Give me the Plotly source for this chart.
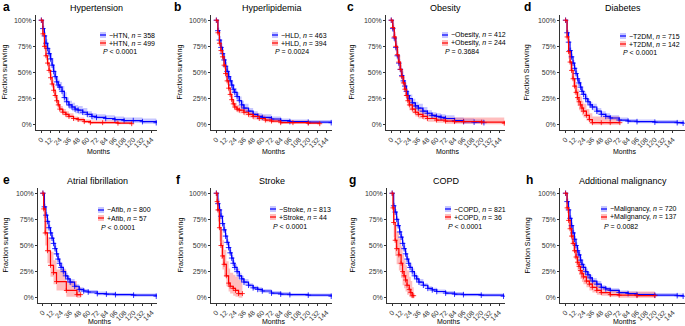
import plotly.graph_objects as go

W, H = 685, 326

# ---------------- DATA ----------------
month_ticks = [0, 12, 24, 36, 48, 60, 72, 84, 96, 108, 120, 132, 144]
pct_ticks = [0, 0.25, 0.5, 0.75, 1.0]
pct_labels = ["0%", "25%", "50%", "75%", "100%"]

# a Hypertension
htn_neg_t = [0,2,4,6,8,10,12,14,16,18,20,22,24,27,30,33,36,40,44,48,54,60,66,72,84,96,108,120,132,150]
htn_neg_s = [1.00,0.92,0.85,0.78,0.73,0.68,0.63,0.57,0.51,0.46,0.41,0.38,0.36,0.32,0.26,0.22,0.19,0.17,0.15,0.14,0.12,0.10,0.08,0.07,0.06,0.05,0.04,0.04,0.03,0.02]
htn_neg_lo = [1.00,0.89,0.81,0.74,0.68,0.63,0.58,0.52,0.46,0.41,0.36,0.33,0.31,0.27,0.22,0.18,0.15,0.13,0.11,0.10,0.09,0.07,0.05,0.05,0.04,0.03,0.02,0.02,0.01,0.01]
htn_neg_hi = [1.00,0.95,0.89,0.82,0.78,0.73,0.68,0.62,0.56,0.51,0.46,0.43,0.41,0.37,0.31,0.26,0.23,0.21,0.19,0.18,0.16,0.13,0.11,0.10,0.09,0.08,0.07,0.07,0.06,0.05]
htn_pos_t = [0,2,4,6,8,10,12,14,16,18,20,22,24,28,32,36,42,48,56,64,80,100,118]
htn_pos_s = [1.00,0.87,0.75,0.66,0.59,0.52,0.45,0.39,0.33,0.28,0.23,0.19,0.15,0.12,0.10,0.08,0.06,0.05,0.03,0.02,0.02,0.015,0.01]
htn_pos_lo = [1.00,0.84,0.71,0.62,0.55,0.48,0.41,0.35,0.29,0.24,0.19,0.16,0.12,0.09,0.07,0.06,0.04,0.03,0.02,0.01,0.01,0.005,0.0]
htn_pos_hi = [1.00,0.90,0.79,0.70,0.63,0.56,0.49,0.43,0.37,0.32,0.27,0.23,0.18,0.15,0.13,0.11,0.08,0.07,0.05,0.04,0.04,0.03,0.03]

# b Hyperlipidemia
hld_neg_t = [0,2,4,6,8,10,12,14,16,18,20,22,24,27,30,33,36,42,48,54,60,72,84,96,120,150]
hld_neg_s = [1.00,0.90,0.81,0.74,0.68,0.62,0.56,0.51,0.46,0.42,0.38,0.34,0.31,0.27,0.23,0.19,0.16,0.13,0.10,0.08,0.07,0.055,0.04,0.03,0.025,0.02]
hld_neg_lo = [1.00,0.87,0.77,0.70,0.64,0.58,0.52,0.47,0.42,0.38,0.34,0.30,0.27,0.23,0.19,0.16,0.13,0.10,0.07,0.06,0.05,0.035,0.02,0.015,0.01,0.005]
hld_neg_hi = [1.00,0.93,0.85,0.78,0.72,0.66,0.60,0.55,0.50,0.46,0.42,0.38,0.35,0.31,0.27,0.23,0.20,0.16,0.13,0.11,0.10,0.08,0.06,0.05,0.045,0.04]
hld_pos_t = [0,2,4,6,8,10,12,14,16,18,20,22,24,27,30,36,42,48,56,64,72,84,100,120,135]
hld_pos_s = [1.00,0.88,0.78,0.71,0.65,0.57,0.49,0.42,0.35,0.29,0.24,0.20,0.17,0.15,0.14,0.12,0.10,0.08,0.06,0.045,0.035,0.02,0.02,0.015,0.01]
hld_pos_lo = [1.00,0.85,0.74,0.67,0.61,0.53,0.45,0.38,0.31,0.25,0.20,0.16,0.14,0.12,0.11,0.09,0.07,0.05,0.04,0.025,0.02,0.01,0.01,0.005,0.0]
hld_pos_hi = [1.00,0.91,0.82,0.75,0.69,0.61,0.53,0.46,0.39,0.33,0.28,0.24,0.21,0.19,0.18,0.15,0.13,0.11,0.09,0.07,0.06,0.045,0.04,0.035,0.03]

# c Obesity
ob_neg_t = [0,2,4,6,8,10,12,14,16,18,20,22,24,28,32,36,42,48,54,60,66,72,84,96,110,123]
ob_neg_s = [1.00,0.92,0.83,0.74,0.66,0.59,0.53,0.47,0.42,0.37,0.32,0.28,0.25,0.21,0.18,0.16,0.13,0.11,0.09,0.08,0.07,0.06,0.04,0.03,0.025,0.02]
ob_neg_lo = [1.00,0.89,0.79,0.70,0.62,0.55,0.49,0.43,0.38,0.33,0.28,0.24,0.21,0.17,0.14,0.12,0.10,0.08,0.06,0.05,0.04,0.035,0.02,0.01,0.01,0.005]
ob_neg_hi = [1.00,0.95,0.87,0.78,0.70,0.63,0.57,0.51,0.46,0.41,0.36,0.32,0.29,0.25,0.22,0.20,0.17,0.14,0.12,0.11,0.10,0.09,0.07,0.06,0.05,0.045]
ob_pos_t = [0,2,4,6,8,10,12,14,16,18,20,22,24,28,32,36,42,48,60,72,84,96,120,150]
ob_pos_s = [1.00,0.93,0.84,0.75,0.67,0.60,0.53,0.46,0.40,0.34,0.28,0.23,0.19,0.15,0.12,0.10,0.08,0.06,0.045,0.035,0.03,0.03,0.025,0.015]
ob_pos_lo = [1.00,0.89,0.79,0.70,0.61,0.54,0.47,0.40,0.34,0.28,0.23,0.18,0.14,0.11,0.08,0.06,0.05,0.03,0.02,0.01,0.01,0.01,0.005,0.0]
ob_pos_hi = [1.00,0.97,0.89,0.80,0.73,0.66,0.59,0.52,0.46,0.40,0.34,0.29,0.24,0.20,0.17,0.15,0.12,0.10,0.08,0.07,0.07,0.07,0.07,0.06]

# d Diabetes
dm_neg_t = [0,2,4,6,8,10,12,14,16,18,20,22,24,27,30,33,36,42,48,54,60,72,84,96,120,150,158]
dm_neg_s = [1.00,0.88,0.79,0.71,0.65,0.59,0.54,0.49,0.44,0.40,0.36,0.32,0.29,0.25,0.22,0.19,0.17,0.13,0.10,0.08,0.065,0.045,0.035,0.03,0.025,0.02,0.015]
dm_neg_lo = [1.00,0.85,0.76,0.68,0.62,0.56,0.51,0.46,0.41,0.37,0.33,0.29,0.26,0.22,0.19,0.16,0.14,0.10,0.08,0.06,0.045,0.03,0.02,0.015,0.01,0.005,0.0]
dm_neg_hi = [1.00,0.91,0.82,0.74,0.68,0.62,0.57,0.52,0.47,0.43,0.39,0.35,0.32,0.28,0.25,0.22,0.20,0.16,0.13,0.11,0.09,0.07,0.055,0.05,0.045,0.04,0.035]
dm_pos_t = [0,2,4,6,8,10,12,14,16,18,20,22,24,28,32,36,48,60,73]
dm_pos_s = [1.00,0.84,0.70,0.60,0.52,0.44,0.37,0.31,0.26,0.22,0.19,0.16,0.13,0.09,0.05,0.02,0.02,0.02,0.02]
dm_pos_lo = [1.00,0.78,0.63,0.52,0.44,0.36,0.29,0.23,0.18,0.14,0.12,0.09,0.07,0.04,0.01,0.0,0.0,0.0,0.0]
dm_pos_hi = [1.00,0.90,0.77,0.68,0.60,0.52,0.45,0.39,0.34,0.30,0.27,0.23,0.20,0.15,0.11,0.08,0.08,0.08,0.08]

# e Atrial fibrillation
af_neg_t = [0,2,4,6,8,10,12,14,16,18,20,22,24,27,30,33,36,42,48,54,60,72,84,96,120,150]
af_neg_s = [1.00,0.87,0.79,0.73,0.67,0.62,0.57,0.52,0.47,0.42,0.37,0.33,0.29,0.25,0.21,0.18,0.15,0.11,0.08,0.065,0.055,0.04,0.035,0.03,0.025,0.015]
af_neg_lo = [1.00,0.84,0.76,0.70,0.64,0.59,0.54,0.49,0.44,0.39,0.34,0.30,0.26,0.22,0.18,0.15,0.12,0.09,0.06,0.045,0.035,0.025,0.02,0.015,0.01,0.005]
af_neg_hi = [1.00,0.90,0.82,0.76,0.70,0.65,0.60,0.55,0.50,0.45,0.40,0.36,0.32,0.28,0.24,0.21,0.18,0.13,0.10,0.085,0.075,0.06,0.05,0.045,0.04,0.035]
af_pos_t = [0,1,3,6,10,14,18,31,45,50]
af_pos_s = [1.00,0.85,0.62,0.45,0.31,0.24,0.155,0.07,0.03,0.03]
af_pos_lo = [1.00,0.76,0.50,0.33,0.20,0.13,0.07,0.01,0.0,0.0]
af_pos_hi = [1.00,0.95,0.75,0.58,0.44,0.36,0.27,0.16,0.10,0.10]

# f Stroke
st_neg_t = [0,2,4,6,8,10,12,14,16,18,20,22,24,27,30,33,36,42,48,54,60,72,84,96,120,150]
st_neg_s = [1.00,0.90,0.84,0.78,0.71,0.65,0.59,0.53,0.48,0.43,0.38,0.33,0.29,0.25,0.21,0.18,0.15,0.12,0.095,0.08,0.065,0.045,0.035,0.03,0.025,0.015]
st_neg_lo = [1.00,0.87,0.81,0.75,0.68,0.62,0.56,0.50,0.45,0.40,0.35,0.30,0.26,0.22,0.18,0.15,0.12,0.10,0.075,0.06,0.045,0.03,0.02,0.015,0.01,0.005]
st_neg_hi = [1.00,0.93,0.87,0.81,0.74,0.68,0.62,0.56,0.51,0.46,0.41,0.36,0.32,0.28,0.24,0.21,0.18,0.14,0.115,0.10,0.085,0.065,0.055,0.045,0.04,0.035]
st_pos_t = [0,1,2,4,6,8,10,13,16,18,22,25,29,34]
st_pos_s = [1.00,0.92,0.84,0.67,0.50,0.40,0.32,0.21,0.14,0.11,0.09,0.07,0.04,0.04]
st_pos_lo = [1.00,0.84,0.73,0.54,0.37,0.27,0.20,0.11,0.06,0.04,0.02,0.01,0.0,0.0]
st_pos_hi = [1.00,0.99,0.95,0.81,0.65,0.55,0.46,0.35,0.28,0.24,0.22,0.20,0.17,0.17]

# g COPD
cp_neg_t = [0,2,4,6,8,10,12,14,16,18,20,22,24,27,30,33,36,42,48,54,60,72,84,96,120,150]
cp_neg_s = [1.00,0.88,0.82,0.75,0.69,0.63,0.58,0.52,0.47,0.42,0.37,0.33,0.29,0.25,0.21,0.18,0.15,0.12,0.09,0.075,0.06,0.045,0.035,0.03,0.025,0.015]
cp_neg_lo = [1.00,0.85,0.79,0.72,0.66,0.60,0.55,0.49,0.44,0.39,0.34,0.30,0.26,0.22,0.18,0.15,0.12,0.10,0.07,0.055,0.04,0.03,0.02,0.015,0.01,0.005]
cp_neg_hi = [1.00,0.91,0.85,0.78,0.72,0.66,0.61,0.55,0.50,0.45,0.40,0.36,0.32,0.28,0.24,0.21,0.18,0.14,0.11,0.095,0.08,0.065,0.055,0.045,0.04,0.035]
cp_pos_t = [0,1,2,4,6,9,12,14,16,18,20,23,25,27,29]
cp_pos_s = [1.00,0.86,0.72,0.55,0.47,0.41,0.33,0.25,0.21,0.17,0.12,0.08,0.05,0.02,0.02]
cp_pos_lo = [1.00,0.75,0.58,0.40,0.32,0.26,0.19,0.12,0.09,0.06,0.03,0.01,0.0,0.0,0.0]
cp_pos_hi = [1.00,0.97,0.86,0.71,0.63,0.57,0.49,0.41,0.36,0.31,0.26,0.20,0.16,0.10,0.10]

# h Additional malignancy
mal_neg_t = [0,2,4,6,8,10,12,14,16,18,20,22,24,27,30,33,36,42,48,54,60,72,84,96,120,150,158]
mal_neg_s = [1.00,0.92,0.84,0.76,0.69,0.62,0.56,0.50,0.45,0.41,0.36,0.32,0.29,0.25,0.22,0.19,0.16,0.13,0.10,0.085,0.07,0.05,0.04,0.03,0.025,0.02,0.015]
mal_neg_lo = [1.00,0.89,0.81,0.73,0.66,0.59,0.53,0.47,0.42,0.38,0.33,0.29,0.26,0.22,0.19,0.16,0.13,0.10,0.08,0.065,0.05,0.035,0.025,0.015,0.01,0.005,0.0]
mal_neg_hi = [1.00,0.95,0.87,0.79,0.72,0.65,0.59,0.53,0.48,0.44,0.39,0.35,0.32,0.28,0.25,0.22,0.19,0.16,0.12,0.105,0.09,0.07,0.06,0.05,0.045,0.04,0.035]
mal_pos_t = [0,2,4,6,8,10,12,14,16,18,20,22,24,28,32,36,42,48,60,72,96,120]
mal_pos_s = [1.00,0.86,0.74,0.66,0.59,0.52,0.45,0.39,0.34,0.30,0.26,0.23,0.20,0.16,0.13,0.10,0.07,0.05,0.03,0.025,0.02,0.02]
mal_pos_lo = [1.00,0.81,0.67,0.58,0.51,0.44,0.37,0.31,0.26,0.22,0.18,0.15,0.13,0.10,0.07,0.05,0.03,0.02,0.01,0.0,0.0,0.0]
mal_pos_hi = [1.00,0.91,0.81,0.74,0.67,0.60,0.53,0.47,0.42,0.38,0.34,0.31,0.27,0.22,0.19,0.16,0.12,0.09,0.07,0.06,0.06,0.06]

panel_letters = ["a", "b", "c", "d", "e", "f", "g", "h"]
panel_titles = ["Hypertension", "Hyperlipidemia", "Obesity", "Diabetes",
                "Atrial fibrillation", "Stroke", "COPD", "Additional malignancy"]
y_titles = ["Fraction surviving", "Fraction surviving", "Fraction surviving", "Fraction Surviving",
            "Fraction surviving", "Fraction surviving", "Fraction surviving", "Fraction Surviving"]
neg_labels = ["−HTN, <i>n</i> = 358", "−HLD, <i>n</i> = 463", "−Obesity, <i>n</i> = 412", "−T2DM, <i>n</i> = 715",
              "−Afib, <i>n</i> = 800", "−Stroke, <i>n</i> = 813", "−COPD, <i>n</i> = 821", "−Malignancy, <i>n</i> = 720"]
pos_labels = ["+HTN, <i>n</i> = 499", "+HLD, <i>n</i> = 394", "+Obesity, <i>n</i> = 244", "+T2DM, <i>n</i> = 142",
              "+Afib, <i>n</i> = 57", "+Stroke, <i>n</i> = 44", "+COPD, <i>n</i> = 36", "+Malignancy, <i>n</i> = 137"]
p_labels = ["<i>P</i> &lt; 0.0001", "<i>P</i> = 0.0024", "<i>P</i> = 0.3684", "<i>P</i> &lt; 0.0001",
            "<i>P</i> &lt; 0.0001", "<i>P</i> &lt; 0.0001", "<i>P</i> &lt; 0.0001", "<i>P</i> = 0.0082"]

series = [
    ((htn_neg_t, htn_neg_s, htn_neg_lo, htn_neg_hi), (htn_pos_t, htn_pos_s, htn_pos_lo, htn_pos_hi)),
    ((hld_neg_t, hld_neg_s, hld_neg_lo, hld_neg_hi), (hld_pos_t, hld_pos_s, hld_pos_lo, hld_pos_hi)),
    ((ob_neg_t, ob_neg_s, ob_neg_lo, ob_neg_hi), (ob_pos_t, ob_pos_s, ob_pos_lo, ob_pos_hi)),
    ((dm_neg_t, dm_neg_s, dm_neg_lo, dm_neg_hi), (dm_pos_t, dm_pos_s, dm_pos_lo, dm_pos_hi)),
    ((af_neg_t, af_neg_s, af_neg_lo, af_neg_hi), (af_pos_t, af_pos_s, af_pos_lo, af_pos_hi)),
    ((st_neg_t, st_neg_s, st_neg_lo, st_neg_hi), (st_pos_t, st_pos_s, st_pos_lo, st_pos_hi)),
    ((cp_neg_t, cp_neg_s, cp_neg_lo, cp_neg_hi), (cp_pos_t, cp_pos_s, cp_pos_lo, cp_pos_hi)),
    ((mal_neg_t, mal_neg_s, mal_neg_lo, mal_neg_hi), (mal_pos_t, mal_pos_s, mal_pos_lo, mal_pos_hi)),
]

# ---------------- LAYOUT (pixels) ----------------
x_doms = [(36, 157), (211, 332), (386, 505), (560, 685),
          (38, 157), (211, 332), (387, 505), (560, 685)]
y_doms = [(15, 130)] * 4 + [(188, 303)] * 4
x_ranges = [[-7, 151], [-7, 151], [-7, 151], [-7.5, 160.5],
            [-6.5, 151], [-7, 151], [-7, 152], [-7.5, 160.5]]
legend_pos = [(100, 35), (272, 35), (442, 35), (620, 36),
              (98, 210), (270, 209), (445, 209), (601, 209)]
ytitle_x = [5, 180, 352, 527, 5, 180, 352, 527]
letter_pos = [(1, 7), (172, 7), (345, 7), (522, 7),
              (1, 180), (174, 180), (347, 180), (524, 180)]

BLUE = "#0000FF"
RED = "#FF0000"
BLUE_F = "rgba(70,70,255,0.30)"
RED_F = "rgba(255,40,40,0.30)"
FONT = "Liberation Sans, Arial, sans-serif"


def px(x):
    return x / W


def py(y):
    return 1 - y / H


fig = go.Figure()
annotations = []
shapes = []

for i in range(8):
    k = i + 1
    xa = "x" if k == 1 else f"x{k}"
    ya = "y" if k == 1 else f"y{k}"
    neg, pos = series[i]
    for (t, s, lo, hi), fcol in ((neg, BLUE_F), (pos, RED_F)):
        fig.add_trace(go.Scatter(x=t, y=lo, mode="lines", line=dict(width=0, shape="hv"),
                                 xaxis=xa, yaxis=ya, showlegend=False, hoverinfo="skip"))
        fig.add_trace(go.Scatter(x=t, y=hi, mode="lines", line=dict(width=0, shape="hv"),
                                 fill="tonexty", fillcolor=fcol,
                                 xaxis=xa, yaxis=ya, showlegend=False, hoverinfo="skip"))
    for (t, s, lo, hi), col, msz in ((neg, BLUE, 4), (pos, RED, 3.5)):
        fig.add_trace(go.Scatter(x=t, y=s, mode="lines+markers",
                                 line=dict(width=1.2, color=col, shape="hv"),
                                 marker=dict(symbol="cross-thin", size=msz, color=col,
                                             line=dict(width=0.8, color=col)),
                                 xaxis=xa, yaxis=ya, showlegend=False, hoverinfo="skip"))

    x0, x1 = x_doms[i]
    y0, y1 = y_doms[i]
    axis_common = dict(showgrid=False, zeroline=False, showline=True, linecolor="black",
                       linewidth=0.8, ticks="outside", ticklen=2, tickwidth=0.8,
                       tickcolor="black", tickfont=dict(size=7, family=FONT, color="#333"))
    fig.layout[f"xaxis{'' if k == 1 else k}"] = dict(
        domain=[px(x0), px(x1)], anchor=ya, range=x_ranges[i],
        tickvals=month_ticks, ticktext=[str(v) for v in month_ticks], tickangle=-45,
        **axis_common)
    fig.layout[f"yaxis{'' if k == 1 else k}"] = dict(
        domain=[py(y1), py(y0)], anchor=xa, range=[-0.05, 1.05],
        tickvals=pct_ticks, ticktext=pct_labels, **axis_common)

    cx = (x0 + x1) / 2
    annotations.append(dict(x=px(cx), y=py(y0 - 7), xref="paper", yref="paper",
                            text=panel_titles[i], showarrow=False,
                            font=dict(size=9, family=FONT, color="black"),
                            xanchor="center", yanchor="middle"))
    lx, ly = letter_pos[i]
    annotations.append(dict(x=px(lx), y=py(ly), xref="paper", yref="paper",
                            text=f"<b>{panel_letters[i]}</b>", showarrow=False,
                            font=dict(size=12, family=FONT, color="black"),
                            xanchor="left", yanchor="middle"))
    annotations.append(dict(x=px(ytitle_x[i]), y=py((y0 + y1) / 2), xref="paper", yref="paper",
                            text=y_titles[i], showarrow=False, textangle=-90,
                            font=dict(size=7, family=FONT, color="black"),
                            xanchor="center", yanchor="middle"))
    mt_y = y1 + 21 if i < 4 else y1 + 18
    annotations.append(dict(x=px(cx + 2), y=py(mt_y), xref="paper", yref="paper",
                            text="Months", showarrow=False,
                            font=dict(size=7, family=FONT, color="black"),
                            xanchor="center", yanchor="middle"))
    gx, gy = legend_pos[i]
    for j, (lab, col, fcol) in enumerate(((neg_labels[i], BLUE, BLUE_F), (pos_labels[i], RED, RED_F))):
        yy = gy + j * 8
        shapes.append(dict(type="rect", xref="paper", yref="paper",
                           x0=px(gx), x1=px(gx + 6), y0=py(yy + 3), y1=py(yy - 3),
                           fillcolor=fcol, line=dict(width=0)))
        shapes.append(dict(type="line", xref="paper", yref="paper",
                           x0=px(gx), x1=px(gx + 6), y0=py(yy), y1=py(yy),
                           line=dict(color=col, width=1.2)))
        annotations.append(dict(x=px(gx + 7), y=py(yy), xref="paper", yref="paper",
                                text=lab, showarrow=False,
                                font=dict(size=7, family=FONT, color="black"),
                                xanchor="left", yanchor="middle"))
    annotations.append(dict(x=px(gx + 1), y=py(gy + 17), xref="paper", yref="paper",
                            text=p_labels[i], showarrow=False,
                            font=dict(size=7, family=FONT, color="black"),
                            xanchor="left", yanchor="middle"))

fig.update_layout(width=W, height=H, margin=dict(l=0, r=0, t=0, b=0),
                  paper_bgcolor="white", plot_bgcolor="white", hovermode=False,
                  annotations=annotations, shapes=shapes, showlegend=False,
                  font=dict(family=FONT))
fig.write_html("out.html", config={"displayModeBar": False, "staticPlot": True},
               post_script="document.body.style.margin='0';document.body.style.overflow='hidden';")
